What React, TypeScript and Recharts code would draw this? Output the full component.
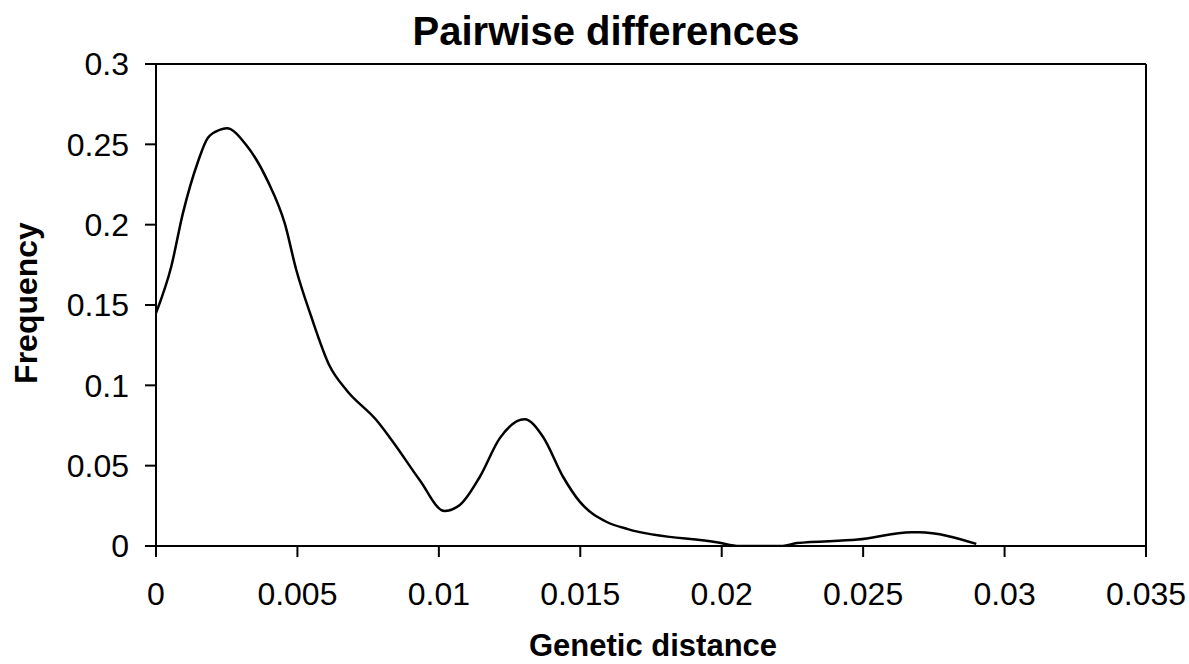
import React from "react";
import { LineChart, Line, XAxis, YAxis, ReferenceLine } from "recharts";

const distance = [
  0, 0.00054, 0.00095, 0.00148, 0.00183, 0.00225, 0.0025, 0.00319, 0.00396, 0.00455,
  0.00496, 0.00549, 0.00614, 0.00673, 0.00779, 0.0085, 0.00932, 0.0102, 0.01074, 0.01145,
  0.01215, 0.01303, 0.01368, 0.01439, 0.01498, 0.01592, 0.01668, 0.01987, 0.02063, 0.02215,
  0.02266, 0.02481, 0.02672, 0.02697, 0.029,
];
const frequency = [
  0.145, 0.174, 0.207, 0.239, 0.254, 0.259, 0.26, 0.2496, 0.2268, 0.2009,
  0.1718, 0.1427, 0.112, 0.0971, 0.0784, 0.0618, 0.0411, 0.0218, 0.0255, 0.0431,
  0.067, 0.0789, 0.068, 0.0431, 0.0276, 0.0151, 0.0105, 0.0022, 0, 0,
  0.0018, 0.004, 0.0085, 0.0085, 0.0013,
];
const xTicks = [0, 0.005, 0.01, 0.015, 0.02, 0.025, 0.03, 0.035];
const yTicks = [0, 0.05, 0.1, 0.15, 0.2, 0.25, 0.3];

const title = "Pairwise differences";
const xLabel = "Genetic distance";
const yLabel = "Frequency";

const data = distance.map((d, i) => ({ d, f: frequency[i] }));

const FONT = "'Liberation Sans', Arial, sans-serif";

export default function App() {
  return (
    <div style={{ position: "absolute", left: 0, top: 0, width: 1189, height: 664, background: "#fff", fontFamily: FONT }}>
      <LineChart width={1189} height={664} data={data} margin={{ top: 64, right: 43, bottom: 0, left: 0 }}>
        <XAxis
          dataKey="d"
          type="number"
          domain={[0, 0.035]}
          ticks={xTicks}
          tickFormatter={(v: number) => String(v)}
          height={118}
          stroke="#000"
          strokeWidth={2}
          tickSize={11}
          tickMargin={25}
          tick={{ fill: "#000", fontSize: 32, fontFamily: FONT }}
          tickLine={{ stroke: "#000", strokeWidth: 2 }}
          allowDataOverflow
        />
        <YAxis
          type="number"
          domain={[0, 0.3]}
          ticks={yTicks}
          tickFormatter={(v: number) => String(v)}
          width={156}
          stroke="#000"
          strokeWidth={2}
          tickSize={11}
          tickMargin={16}
          tick={{ fill: "#000", fontSize: 32, fontFamily: FONT }}
          tickLine={{ stroke: "#000", strokeWidth: 2 }}
          allowDataOverflow
        />
        <ReferenceLine y={0.3} stroke="#000" strokeWidth={2} />
        <ReferenceLine x={0.035} stroke="#000" strokeWidth={2} />
        <Line
          dataKey="f"
          type="monotone"
          stroke="#000"
          strokeWidth={2.5}
          dot={false}
          isAnimationActive={false}
        />
      </LineChart>
      <svg width={1189} height={664} style={{ position: "absolute", left: 0, top: 0, pointerEvents: "none" }}>
        <text x={606} y={45} textAnchor="middle" fontSize={40} fontWeight="bold" fontFamily={FONT} fill="#000">
          {title}
        </text>
        <text x={653} y={656} textAnchor="middle" fontSize={31} fontWeight="bold" fontFamily={FONT} fill="#000">
          {xLabel}
        </text>
        <text transform="translate(37,303) rotate(-90)" x={0} y={0} textAnchor="middle" fontSize={32} fontWeight="bold" fontFamily={FONT} fill="#000">
          {yLabel}
        </text>
      </svg>
    </div>
  );
}
